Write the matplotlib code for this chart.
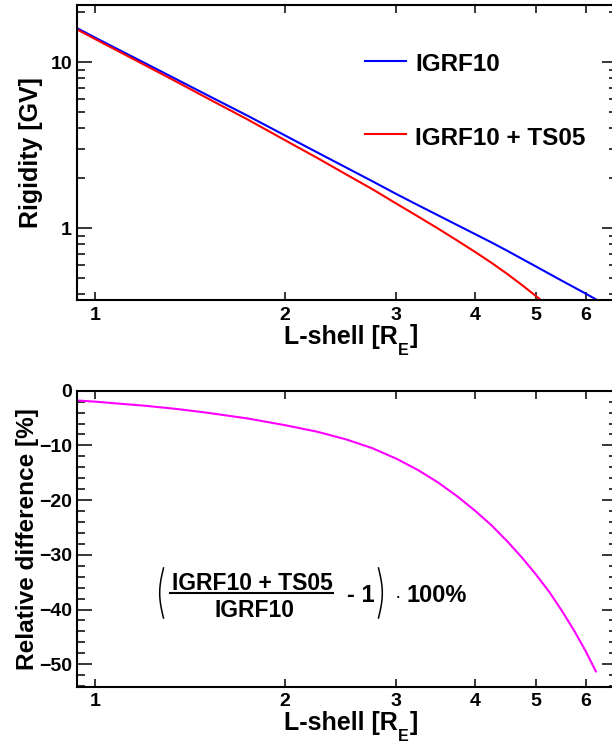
####
# plot.py
#
# Geomagnetic cutoff rigidity vs L-shell (IGRF10 and IGRF10 + TS05)
# plus the relative difference between the two models
###
import numpy as np
import matplotlib
matplotlib.use("Agg")
import matplotlib.pyplot as plt
from matplotlib.lines import Line2D
from matplotlib.ticker import (FixedLocator, FixedFormatter, NullLocator,
                               NullFormatter, LogLocator, MultipleLocator)

# L-shell values [R_E]
l_shell = [0.94, 1.0, 1.1, 1.2, 1.35, 1.5, 1.75, 2.0, 2.25, 2.5, 2.75, 3.0,
           3.25, 3.5, 3.75, 4.0, 4.25, 4.5, 4.75, 5.0, 5.25, 5.5, 5.75, 6.0,
           6.22]

# cutoff rigidity [GV], IGRF10 only
rig_igrf = [15.9, 14.06, 11.68, 9.86, 7.84, 6.38, 4.73, 3.62, 2.86, 2.32,
            1.92, 1.61, 1.377, 1.194, 1.045, 0.923, 0.821, 0.732, 0.654,
            0.588, 0.531, 0.482, 0.440, 0.403, 0.373]

# cutoff rigidity [GV], IGRF10 + TS05
rig_ts05 = [15.61, 13.78, 11.40, 9.59, 7.58, 6.12, 4.49, 3.39, 2.65, 2.11,
            1.72, 1.41, 1.177, 0.993, 0.843, 0.721, 0.619, 0.531, 0.455,
            0.390, 0.336, 0.288, 0.247, 0.211, 0.182]

# relative difference [%]
rel_diff = [-1.8, -2.0, -2.4, -2.75, -3.35, -4.0, -5.1, -6.3, -7.5, -8.9,
            -10.5, -12.4, -14.5, -16.8, -19.3, -21.9, -24.6, -27.5, -30.5,
            -33.6, -36.8, -40.3, -43.9, -47.7, -51.3]

x_ticks = [1, 2, 3, 4, 5, 6]

plt.rcParams['font.family'] = ['Liberation Sans', 'DejaVu Sans']
plt.rcParams['font.weight'] = 'bold'

W, H = 612, 744
fig = plt.figure(figsize=(W / 100, H / 100), dpi=100)


# pixel position (from top-left) -> figure fraction
def fxy(x, y):
    return x / W, 1 - y / H


# ROOT-like axis title "L-shell [R_E]" with a big, low subscript
def l_shell_title(x_left, baseline):
    t1 = fig.text(*fxy(x_left, baseline), 'L-shell [R', fontsize=18,
                  fontweight='bold', ha='left', va='baseline')
    # annotate relative to bottom-right of previous piece (bbox incl. descent)
    t2 = plt.annotate('E', xy=(1, 0), xycoords=t1, xytext=(0.3, -4.6),
                      textcoords='offset points', fontsize=11.5,
                      fontweight='bold', ha='left', va='baseline')
    plt.annotate(']', xy=(1, 0), xycoords=t2, xytext=(0.3, 10.6),
                 textcoords='offset points', fontsize=18,
                 fontweight='bold', ha='left', va='baseline')


# common frame / tick styling
def style_axes(ax):
    for s in ax.spines.values():
        s.set_linewidth(1.5)
    ax.tick_params(which='both', direction='in', top=True, right=True,
                   labelsize=14, width=1.1)
    ax.tick_params(axis='y', which='major', length=10.8, pad=3.6)
    ax.tick_params(axis='y', which='minor', length=5.5)
    ax.tick_params(axis='x', which='major', length=5.5, pad=4.5)
    ax.set_xscale('log')
    ax.set_xlim(0.936, 6.72)
    ax.xaxis.set_major_locator(FixedLocator(x_ticks))
    ax.xaxis.set_major_formatter(FixedFormatter([str(t) for t in x_ticks]))
    ax.xaxis.set_minor_locator(NullLocator())


# ---- top panel: rigidity ----
ax1 = fig.add_axes([77 / W, 1 - 300.3 / H, 540 / W, 295.3 / H])
ax1.plot(l_shell, rig_igrf, color='#0000ff', lw=1.5)
ax1.plot(l_shell, rig_ts05, color='#ff0000', lw=1.5)
style_axes(ax1)
ax1.set_yscale('log')
ax1.set_ylim(0.368, 22.1)
ax1.yaxis.set_major_locator(FixedLocator([1, 10]))
ax1.yaxis.set_major_formatter(FixedFormatter(['1', '10']))
ax1.yaxis.set_minor_locator(LogLocator(base=10, subs=np.arange(2, 10)))
ax1.yaxis.set_minor_formatter(NullFormatter())
ax1.set_ylabel('Rigidity [GV]', fontsize=18, fontweight='bold')
ax1.yaxis.set_label_coords(-0.063, 0.5)
l_shell_title(284, 343.6)

# legend drawn by hand (ROOT style, no frame)
ax1.plot([0.533, 0.609], [0.810, 0.810], color='#0000ff', lw=1.5,
         transform=ax1.transAxes)
ax1.plot([0.533, 0.609], [0.562, 0.562], color='#ff0000', lw=1.5,
         transform=ax1.transAxes)
ax1.text(0.626, 0.7765, 'IGRF10', fontsize=17.5, fontweight='bold',
         va='baseline', transform=ax1.transAxes)
ax1.text(0.626, 0.5259, 'IGRF10 + TS05', fontsize=17.5, fontweight='bold',
         va='baseline', transform=ax1.transAxes)

# ---- bottom panel: relative difference ----
ax2 = fig.add_axes([77 / W, 1 - 686.7 / H, 540 / W, 296 / H])
ax2.plot(l_shell, rel_diff, color='#ff00ff', lw=1.5)
style_axes(ax2)
ax2.set_ylim(-54.1, 0)
ax2.yaxis.set_major_locator(MultipleLocator(10))
ax2.yaxis.set_minor_locator(MultipleLocator(2))
ax2.set_ylabel('Relative difference [%]', fontsize=17.6, fontweight='bold')
ax2.yaxis.set_label_coords(-0.070, 0.5)
l_shell_title(284, 730)

# formula annotation
fig.text(*fxy(252, 590), 'IGRF10 + TS05', fontsize=16.5, fontweight='bold',
         ha='center', va='baseline')
fig.text(*fxy(254, 617), 'IGRF10', fontsize=16.5, fontweight='bold',
         ha='center', va='baseline')
fig.add_artist(Line2D([170 / W, 333 / W], [1 - 592.5 / H, 1 - 592.5 / H],
                      color='black', lw=1.5))
fig.text(*fxy(347, 601.7), '- 1', fontsize=17, fontweight='bold',
         ha='left', va='baseline')
fig.text(*fxy(398, 601.7), '\u00b7', fontsize=14, fontweight='normal',
         ha='center', va='baseline')
fig.text(*fxy(406, 601.7), '100%', fontsize=17, fontweight='bold',
         ha='left', va='baseline')

# thin round brackets
t = np.linspace(0, 1, 40)
py = 568 + 50 * t
fig.add_artist(Line2D((163.5 - 3.8 * np.sin(np.pi * t)) / W, 1 - py / H,
                      color='black', lw=1.1))
fig.add_artist(Line2D((378.5 + 3.8 * np.sin(np.pi * t)) / W, 1 - py / H,
                      color='black', lw=1.1))

fig.savefig('out.png', dpi=100)
